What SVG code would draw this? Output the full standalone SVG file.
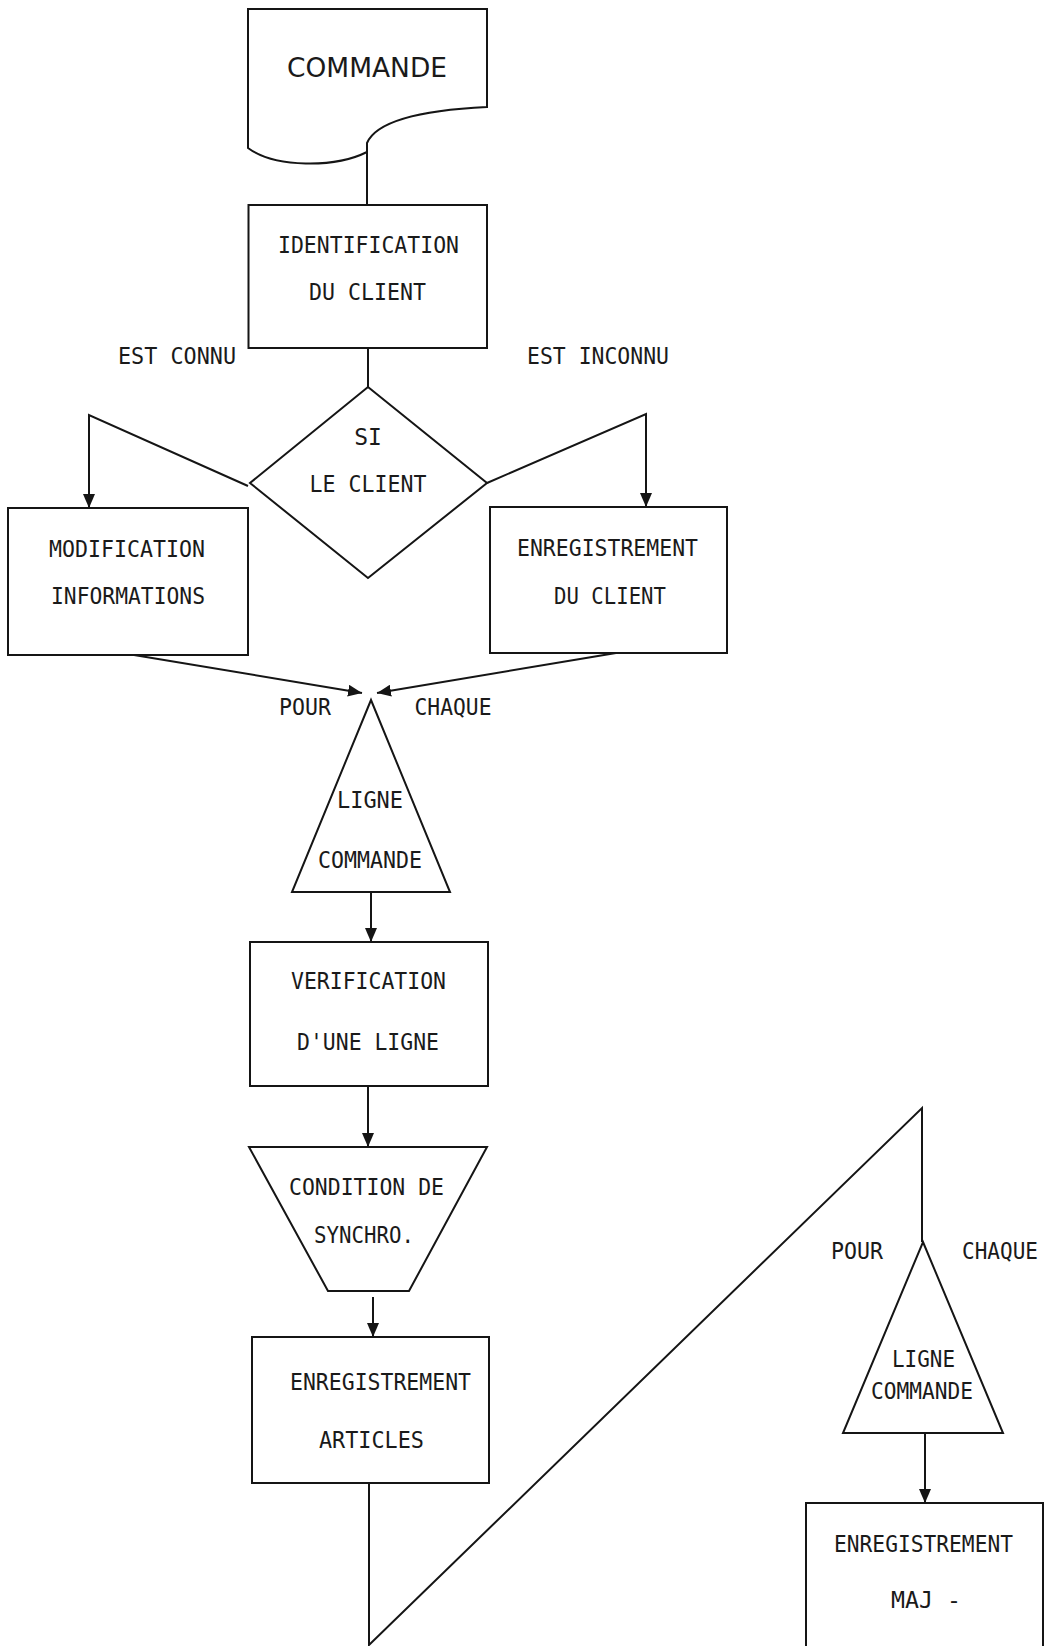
<svg xmlns="http://www.w3.org/2000/svg" width="1045" height="1646" viewBox="0 0 1045 1646">
  <style>
    .shape { fill: none; stroke: #151515; stroke-width: 2; stroke-linejoin: miter; }
    .conn { fill: none; stroke: #151515; stroke-width: 2; }
    .arrow { marker-end: url(#head); }
    .lbl { font-family: "DejaVu Sans Mono", "Liberation Mono", monospace; font-size: 23px; fill: #1a1a1a; text-anchor: middle; }
    .title { font-family: "DejaVu Sans", "Liberation Sans", sans-serif; font-size: 26px; fill: #1a1a1a; text-anchor: middle; }
  </style>
  <defs>
    <marker id="head" markerUnits="userSpaceOnUse" viewBox="0 0 14 12" markerWidth="14" markerHeight="12" refX="14" refY="6" orient="auto">
      <path d="M0,0 L14,6 L0,12 Z" fill="#151515"/>
    </marker>
  </defs>
  <rect width="1045" height="1646" fill="#ffffff"/>

  <!-- order document -->
  <g id="commande">
    <path class="shape" d="M248,9 H487 V107 C425,110 377,120 367,143 V152 C335,168 275,168 248,148 Z"/>
    <text class="title" x="367" y="77" textLength="160" lengthAdjust="spacingAndGlyphs">COMMANDE</text>
  </g>

  <g id="identification">
    <rect class="shape" x="248.5" y="205" width="238.5" height="143"/>
    <text class="lbl" x="368.5" y="253" textLength="181" lengthAdjust="spacingAndGlyphs">IDENTIFICATION</text>
    <text class="lbl" x="367.5" y="300" textLength="117" lengthAdjust="spacingAndGlyphs">DU CLIENT</text>
  </g>

  <g id="si-client">
    <polygon class="shape" points="368,387 487,483 368,578 250,483"/>
    <text class="lbl" x="368" y="445">SI</text>
    <text class="lbl" x="368" y="492" textLength="117" lengthAdjust="spacingAndGlyphs">LE CLIENT</text>
  </g>

  <g id="modification">
    <rect class="shape" x="8" y="508" width="240" height="147"/>
    <text class="lbl" x="127" y="557" textLength="156" lengthAdjust="spacingAndGlyphs">MODIFICATION</text>
    <text class="lbl" x="128" y="604" textLength="154" lengthAdjust="spacingAndGlyphs">INFORMATIONS</text>
  </g>

  <g id="enregistrement-client">
    <rect class="shape" x="490" y="507" width="237" height="146"/>
    <text class="lbl" x="607.5" y="556" textLength="181" lengthAdjust="spacingAndGlyphs">ENREGISTREMENT</text>
    <text class="lbl" x="610" y="604" textLength="112" lengthAdjust="spacingAndGlyphs">DU CLIENT</text>
  </g>

  <g id="boucle-ligne">
    <polygon class="shape" points="371,700 450,892 292,892"/>
    <text class="lbl" x="370" y="808" textLength="66" lengthAdjust="spacingAndGlyphs">LIGNE</text>
    <text class="lbl" x="370" y="868" textLength="104" lengthAdjust="spacingAndGlyphs">COMMANDE</text>
  </g>

  <g id="verification">
    <rect class="shape" x="250" y="942" width="238" height="144"/>
    <text class="lbl" x="368.5" y="989" textLength="155" lengthAdjust="spacingAndGlyphs">VERIFICATION</text>
    <text class="lbl" x="368" y="1050" textLength="142" lengthAdjust="spacingAndGlyphs">D'UNE LIGNE</text>
  </g>

  <g id="synchro">
    <polygon class="shape" points="249,1147 487,1147 409,1291 328,1291"/>
    <text class="lbl" x="366.5" y="1195" textLength="155" lengthAdjust="spacingAndGlyphs">CONDITION DE</text>
    <text class="lbl" x="364" y="1243" textLength="100" lengthAdjust="spacingAndGlyphs">SYNCHRO.</text>
  </g>

  <g id="enregistrement-articles">
    <rect class="shape" x="252" y="1337" width="237" height="146"/>
    <text class="lbl" x="380.5" y="1390" textLength="181" lengthAdjust="spacingAndGlyphs">ENREGISTREMENT</text>
    <text class="lbl" x="371.5" y="1448" textLength="105" lengthAdjust="spacingAndGlyphs">ARTICLES</text>
  </g>

  <g id="boucle-maj">
    <polygon class="shape" points="923,1242 1003,1433 843,1433"/>
    <text class="lbl" x="923.5" y="1367" textLength="63" lengthAdjust="spacingAndGlyphs">LIGNE</text>
    <text class="lbl" x="922" y="1399" textLength="102" lengthAdjust="spacingAndGlyphs">COMMANDE</text>
  </g>

  <g id="enregistrement-maj">
    <rect class="shape" x="806" y="1503" width="237" height="200"/>
    <text class="lbl" x="923.5" y="1552" textLength="179" lengthAdjust="spacingAndGlyphs">ENREGISTREMENT</text>
    <text class="lbl" x="926" y="1608" textLength="70" lengthAdjust="spacingAndGlyphs">MAJ -</text>
  </g>

  <!-- connectors and their labels -->
  <g id="connectors">
    <line class="conn" x1="367" y1="152" x2="367" y2="205"/>
    <line class="conn" x1="368" y1="348" x2="368" y2="387"/>
    <polyline class="conn arrow" points="248,486 89,415 89,508"/>
    <polyline class="conn arrow" points="487,483 646,414 646,507"/>
    <line class="conn arrow" x1="134" y1="655" x2="362" y2="693"/>
    <line class="conn arrow" x1="616" y1="653" x2="377" y2="693"/>
    <line class="conn arrow" x1="371" y1="892" x2="371" y2="942"/>
    <line class="conn arrow" x1="368" y1="1086" x2="368" y2="1147"/>
    <line class="conn arrow" x1="373" y1="1297" x2="373" y2="1337"/>
    <polyline class="conn" points="369,1483 369,1645 922,1108 922,1242"/>
    <line class="conn arrow" x1="925" y1="1433" x2="925" y2="1503"/>

    <text class="lbl" x="177" y="364" textLength="118" lengthAdjust="spacingAndGlyphs">EST CONNU</text>
    <text class="lbl" x="598" y="364" textLength="142" lengthAdjust="spacingAndGlyphs">EST INCONNU</text>
    <text class="lbl" x="305" y="715" textLength="52" lengthAdjust="spacingAndGlyphs">POUR</text>
    <text class="lbl" x="453" y="715" textLength="77" lengthAdjust="spacingAndGlyphs">CHAQUE</text>
    <text class="lbl" x="857" y="1259" textLength="52" lengthAdjust="spacingAndGlyphs">POUR</text>
    <text class="lbl" x="1000" y="1259" textLength="76" lengthAdjust="spacingAndGlyphs">CHAQUE</text>
  </g>
</svg>
